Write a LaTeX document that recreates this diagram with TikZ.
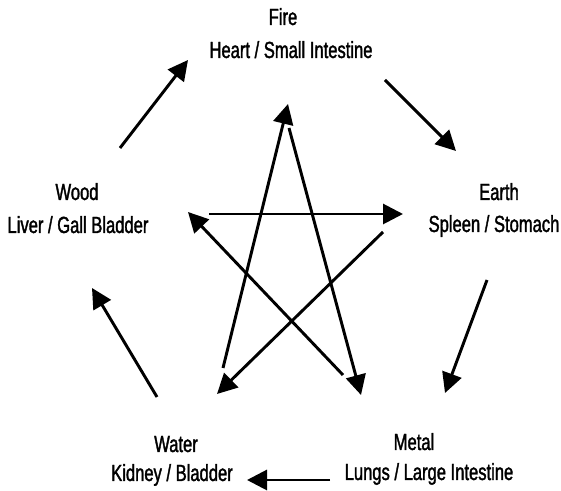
\documentclass[tikz,border=0pt]{standalone}
\usepackage{fontspec}
\setmainfont{Liberation Sans}[FakeStretch=0.71,FakeBold=1.5]
\usetikzlibrary{arrows.meta}
\begin{document}
\begin{tikzpicture}[x=0.75pt,y=-0.75pt,
  lbl/.style={anchor=base,inner sep=0pt,font=\fontsize{17.5}{20}\selectfont},
  arr/.style={line width=2.2pt,-{Triangle[length=15pt,width=15pt]}}]
\useasboundingbox (0,0) rectangle (561,491);
% labels
\node[lbl] (fire) at (283,25) {Fire};
\node[lbl] (fireorg) at (291,58) {Heart / Small Intestine};
\node[lbl] (wood) at (77,200) {Wood};
\node[lbl] (woodorg) at (78,233) {Liver / Gall Bladder};
\node[lbl] (earth) at (499,200) {Earth};
\node[lbl] (earthorg) at (494,232) {Spleen / Stomach};
\node[lbl] (water) at (176,452) {Water};
\node[lbl] (waterorg) at (172,481) {Kidney / Bladder};
\node[lbl] (metal) at (414,450) {Metal};
\node[lbl] (metalorg) at (429,480) {Lungs / Large Intestine};
% connector end points
\coordinate (wf1) at (120,148); \coordinate (wf2) at (188,60);
\coordinate (fe1) at (385,80);  \coordinate (fe2) at (456,151);
\coordinate (em1) at (487,280); \coordinate (em2) at (445,393);
\coordinate (mw1) at (330,480); \coordinate (mw2) at (247,480);
\coordinate (ww1) at (157,397); \coordinate (ww2) at (92,288);
\coordinate (we1) at (209,214); \coordinate (we2) at (403,214);
\coordinate (ewa1) at (383,232); \coordinate (ewa2) at (217,394);
\coordinate (mwo1) at (343,375); \coordinate (mwo2) at (188,212);
\coordinate (wfi1) at (223,368); \coordinate (wfi2) at (288,104);
\coordinate (fm1) at (289,128); \coordinate (fm2) at (361,395);
% generating cycle
\draw[arr] (wf1) -- (wf2);
\draw[arr] (fe1) -- (fe2);
\draw[arr] (em1) -- (em2);
\draw[arr] (mw1) -- (mw2);
\draw[arr] (ww1) -- (ww2);
% controlling star
\draw[arr] (we1) -- (we2);
\draw[arr] (ewa1) -- (ewa2);
\draw[arr] (mwo1) -- (mwo2);
\draw[arr] (wfi1) -- (wfi2);
\draw[arr] (fm1) -- (fm2);
\end{tikzpicture}
\end{document}
